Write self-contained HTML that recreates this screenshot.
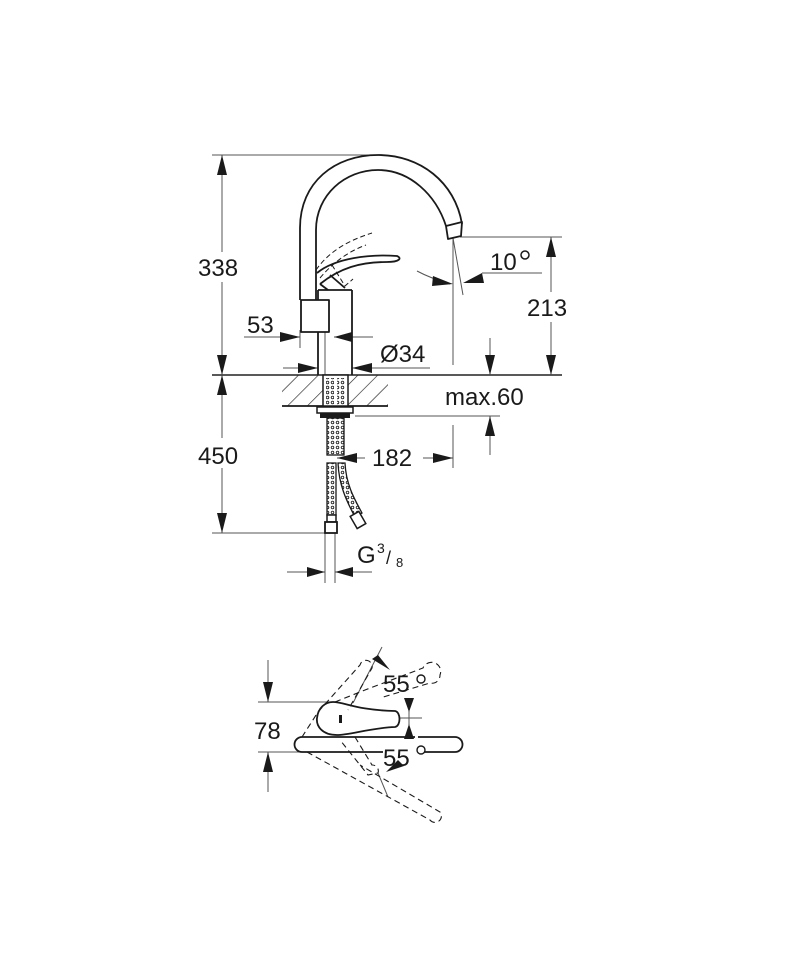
<!DOCTYPE html>
<html><head><meta charset="utf-8"><style>
html,body{margin:0;padding:0;background:#fff;width:800px;height:960px;overflow:hidden}
text{font-family:"Liberation Sans",sans-serif;fill:#1a1a1a}
</style></head><body>
<svg width="800" height="960" viewBox="0 0 800 960" xmlns="http://www.w3.org/2000/svg">
<defs>
<pattern id="h" patternUnits="userSpaceOnUse" width="14" height="14" patternTransform="rotate(45)">
<line x1="0" y1="0" x2="0" y2="14" stroke="#222" stroke-width="1.3"/></pattern>
<pattern id="br" patternUnits="userSpaceOnUse" width="5" height="5">
<circle cx="2.5" cy="2.5" r="1.3" fill="none" stroke="#222" stroke-width="0.9"/></pattern>
</defs>
<g stroke="#555" stroke-width="1" fill="none">
<line x1="212" y1="155" x2="375" y2="155"/>
<line x1="212" y1="375" x2="562" y2="375" stroke="#222" stroke-width="1.5"/>
<line x1="460" y1="237" x2="562" y2="237"/>
<line x1="212" y1="533" x2="337" y2="533"/>
<line x1="355" y1="416" x2="500" y2="416"/>
<line x1="222" y1="155" x2="222" y2="252"/>
<line x1="222" y1="282" x2="222" y2="375"/>
<line x1="222" y1="375" x2="222" y2="438"/>
<line x1="222" y1="468" x2="222" y2="533"/>
<line x1="551" y1="237" x2="551" y2="292"/>
<line x1="551" y1="322" x2="551" y2="375"/>
<line x1="453" y1="237" x2="453" y2="365"/>
<line x1="453" y1="238" x2="463" y2="295"/>
<line x1="482" y1="273" x2="542" y2="273"/>
<path d="M417,271 Q430,278 450,284"/>
<line x1="490" y1="338" x2="490" y2="375"/>
<line x1="490" y1="416" x2="490" y2="455"/>
<line x1="244" y1="337" x2="300" y2="337"/>
<line x1="300" y1="330" x2="300" y2="348"/>
<line x1="334" y1="337" x2="373" y2="337"/>
<line x1="325" y1="327" x2="325" y2="375"/>
<line x1="283" y1="368" x2="318" y2="368"/>
<line x1="352" y1="368" x2="430" y2="368"/>
<line x1="337" y1="458" x2="365" y2="458"/>
<line x1="423" y1="458" x2="453" y2="458"/>
<line x1="453" y1="425" x2="453" y2="468"/>
<line x1="325" y1="533" x2="325" y2="583"/>
<line x1="335" y1="533" x2="335" y2="583"/>
<line x1="287" y1="572" x2="325" y2="572"/>
<line x1="335" y1="572" x2="372" y2="572"/>
</g>
<g fill="#1a1a1a">
<polygon points="222,155 217,175 227,175"/>
<polygon points="222,375 217,355 227,355"/>
<polygon points="222,375 217,395 227,395"/>
<polygon points="222,533 217,513 227,513"/>
<polygon points="551,237 546,257 556,257"/>
<polygon points="551,375 546,355 556,355"/>
<polygon points="490,375 485,355 495,355"/>
<polygon points="490,416 485,436 495,436"/>
<polygon points="300,337 280,332 280,342"/>
<polygon points="334,337 352,332 352,342"/>
<polygon points="318,368 298,363 298,373"/>
<polygon points="352,368 372,363 372,373"/>
<polygon points="337,458 357,453 357,463"/>
<polygon points="453,458 433,453 433,463"/>
<polygon points="325,572 307,567 307,577"/>
<polygon points="335,572 353,567 353,577"/>
<polygon points="453,284 433,276 432,286"/>
<polygon points="463,283 482,273 484,283"/>
</g>
<g stroke="#1a1a1a" stroke-width="1.8" fill="none" stroke-linejoin="round">
<path d="M300,300 L300,228 C300,182 335,155 378,155 C420,155 455,182 462,224"/>
<path d="M316,300 L316,230 C316,195 345,170 378,170 C410,170 436,195 446,226"/>
<path d="M446,226 L462,222 L461,236 L448,239 Z"/>
<rect x="301" y="300" width="28" height="32" fill="#fff"/>
<line x1="318" y1="290" x2="318" y2="300"/>
<line x1="318" y1="332" x2="318" y2="375"/>
<line x1="352" y1="290" x2="352" y2="375"/>
<line x1="318" y1="290" x2="352" y2="290"/>
<path d="M317,273 C335,258 370,254 397,256 C402,258 400,262 387,262 C360,262 340,268 320,284"/>
<path d="M320,284 L328,290 M330,275 L345,288"/>
</g>
<g stroke="#1a1a1a" stroke-width="1" fill="none" stroke-dasharray="5,3">
<path d="M316,270 C330,250 350,240 372,233"/>
<path d="M320,278 C335,260 352,250 366,245"/>
<path d="M332,265 L345,286 L353,279"/>
</g>
<rect x="282" y="375" width="106" height="31" fill="url(#h)"/>
<line x1="282" y1="406" x2="388" y2="406" stroke="#1a1a1a" stroke-width="1.8"/>
<rect x="323" y="375" width="25" height="31" fill="#fff" stroke="#1a1a1a" stroke-width="1.5"/>
<rect x="326" y="378" width="8" height="28" fill="url(#br)"/>
<rect x="337" y="378" width="8" height="28" fill="url(#br)"/>
<rect x="317" y="407" width="36" height="6" fill="#fff" stroke="#1a1a1a" stroke-width="1.5"/>
<rect x="320" y="413" width="30" height="5" fill="#1a1a1a"/>
<rect x="327" y="418" width="17" height="37" fill="url(#br)" stroke="#1a1a1a" stroke-width="1.3"/>
<rect x="327" y="463" width="9" height="52" fill="url(#br)" stroke="#1a1a1a" stroke-width="1.3"/>
<path d="M338,463 L345,463 C346,485 355,500 362,513 L355,517 C346,500 339,485 338,463 Z" fill="url(#br)" stroke="#1a1a1a" stroke-width="1.3"/>
<rect x="353" y="513" width="10" height="14" transform="rotate(-30 358 520)" fill="#fff" stroke="#1a1a1a" stroke-width="1.5"/>
<rect x="327" y="515" width="9" height="7" fill="#fff" stroke="#1a1a1a" stroke-width="1.5"/>
<rect x="325" y="522" width="12" height="11" fill="#fff" stroke="#1a1a1a" stroke-width="1.8"/>
<g font-size="24">
<text x="198" y="276">338</text>
<text x="198" y="464">450</text>
<text x="527" y="316">213</text>
<text x="247" y="333">53</text>
<text x="380" y="362">Ø34</text>
<text x="490" y="270">10</text>
<text x="445" y="405">max.60</text>
<text x="372" y="466">182</text>
<text x="357" y="563">G</text>
</g>
<circle cx="525" cy="255" r="4" fill="none" stroke="#1a1a1a" stroke-width="1.5"/>
<text x="377" y="553" font-size="14">3</text>
<text x="386" y="564" font-size="18">/</text>
<text x="396" y="567" font-size="13">8</text>

<g stroke="#555" stroke-width="1" fill="none">
<line x1="268" y1="660" x2="268" y2="702"/>
<line x1="268" y1="752" x2="268" y2="792"/>
<line x1="258" y1="702" x2="330" y2="702"/>
<line x1="258" y1="752" x2="305" y2="752"/>
<line x1="400" y1="718" x2="422" y2="718"/>
<line x1="382" y1="647" x2="353" y2="703"/>
<line x1="378" y1="773" x2="388" y2="797"/>
<line x1="409" y1="698" x2="409" y2="727"/>
</g>
<g fill="#1a1a1a">
<polygon points="268,702 263,682 273,682"/>
<polygon points="268,752 263,772 273,772"/>
<polygon points="390,670 372,659 378,655"/>
<polygon points="409,712 404,698 414,698"/>
<polygon points="409,724 404,739 414,739"/>
<polygon points="386,772 398,760 404,766"/>
</g>
<g stroke="#1a1a1a" stroke-width="1.8" fill="none">
<path d="M415,737 L302,737 A7.5,7.5 0 0 0 302,752 L383,752 M424,752 L455,752 A7.5,7.5 0 0 0 455,737 L418,737"/>
<path d="M333,702 C345,702 355,710 395,711 C401,712 401,726 395,727 C370,728 350,735 337,735 C322,735 316,726 317,718 C318,708 325,702 333,702 Z" fill="#fff"/>
</g>
<rect x="339" y="715" width="3" height="8" fill="#1a1a1a"/>
<g stroke="#1a1a1a" stroke-width="1.1" fill="none" stroke-dasharray="6,4">
<path d="M302,737 L318,712 L360,665 A6,6 0 0 1 372,668 L348,710"/>
<path d="M335,702 L365,690 L423,668 A8,8 0 0 1 440,675 A8,8 0 0 1 430,683 L380,698"/>
<path d="M307,752 L430,820 A6,6 0 0 0 440,812 L360,765"/>
<path d="M355,737 L372,765 A6,6 0 0 1 378,773 L368,775 L340,740"/>
</g>
<g font-size="24">
<text x="254" y="739">78</text>
<text x="383" y="692">55</text>
<text x="383" y="766">55</text>
</g>
<circle cx="421" cy="679" r="4" fill="none" stroke="#1a1a1a" stroke-width="1.4"/>
<circle cx="421" cy="750" r="4" fill="none" stroke="#1a1a1a" stroke-width="1.4"/>
</svg>
</body></html>
